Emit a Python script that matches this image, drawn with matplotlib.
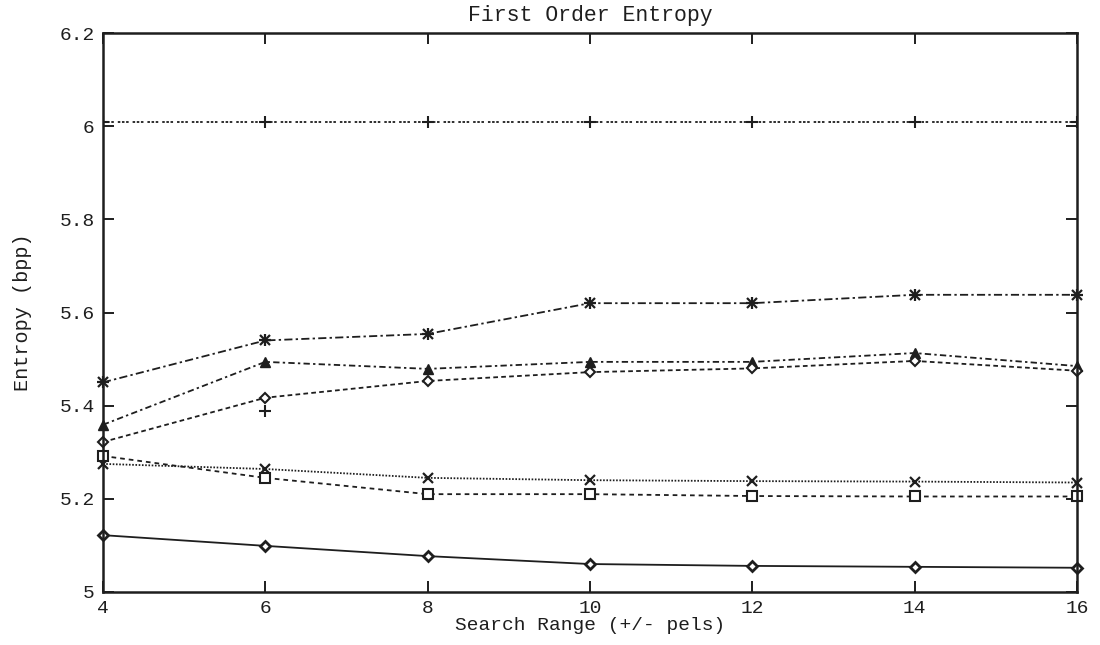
import matplotlib
matplotlib.use("Agg")
import matplotlib.pyplot as plt

# search range (+/- pels)
search_range = [4, 6, 8, 10, 12, 14, 16]

# first order entropy (bpp) per method
ent_plus = [6.01, 6.01, 6.01, 6.01, 6.01, 6.01, 6.01]
ent_star = [5.45, 5.54, 5.554, 5.62, 5.62, 5.638, 5.638]
ent_tri = [5.359, 5.494, 5.479, 5.494, 5.494, 5.513, 5.485]
ent_dia = [5.322, 5.417, 5.453, 5.472, 5.48, 5.496, 5.475]
ent_cross = [5.275, 5.264, 5.245, 5.24, 5.238, 5.237, 5.235]
ent_sq = [5.292, 5.245, 5.21, 5.21, 5.206, 5.205, 5.205]
ent_base = [5.122, 5.099, 5.077, 5.06, 5.056, 5.054, 5.052]

# single extra point at range 6
lone_x = [6]
lone_y = [5.389]

xticks = [4, 6, 8, 10, 12, 14, 16]
yticks = [5.0, 5.2, 5.4, 5.6, 5.8, 6.0, 6.2]
ytick_labels = ["5", "5.2", "5.4", "5.6", "5.8", "6", "6.2"]

ink = "#1e1e1e"
mono = ["Liberation Mono", "DejaVu Sans Mono"]

fig = plt.figure(figsize=(11, 6.45), dpi=100)
ax = fig.add_axes([0.0936, 0.0822, 0.8854, 0.8666])

lw = 1.3
ax.plot(search_range, ent_plus, color=ink, lw=lw, dashes=(1.4, 0.9, 1.4, 0.9, 1.4, 2.2),
        marker="+", ms=9, mew=1.5)
ax.plot(search_range, ent_star, color=ink, lw=lw, dashes=(4.5, 1.8, 1.3, 1.8),
        marker="+", ms=9, mew=1.6, clip_on=False)
ax.plot(search_range, ent_star, color=ink, lw=0, marker="x", ms=7, mew=1.6, clip_on=False)
ax.plot(search_range, ent_tri, color=ink, lw=lw, dashes=(3.5, 1.8, 1.3, 1.8),
        marker="^", ms=7, mfc=ink, clip_on=False)
ax.plot(search_range, ent_dia, color=ink, lw=lw, dashes=(2.6, 1.8),
        marker="D", ms=5.5, mfc="white", mew=1.5, clip_on=False)
ax.plot(search_range, ent_cross, color=ink, lw=lw, dashes=(0.9, 0.9),
        marker="x", ms=7, mew=1.6, clip_on=False)
ax.plot(search_range, ent_sq, color=ink, lw=lw, dashes=(2.6, 2.2),
        marker="s", ms=7, mfc="white", mew=1.5, clip_on=False)
ax.plot(search_range, ent_base, color=ink, lw=lw, ls="-",
        marker="D", ms=5.5, mfc="white", mew=2.0, clip_on=False)
ax.plot(lone_x, lone_y, color=ink, lw=0, marker="+", ms=9, mew=1.5)

ax.set_xlim(4, 16)
ax.set_ylim(5, 6.2)
ax.set_xticks(xticks)
ax.set_xticklabels([str(t) for t in xticks], family=mono, fontsize=14, color=ink)
ax.set_yticks(yticks)
ax.set_yticklabels(ytick_labels, family=mono, fontsize=14, color=ink)
ax.tick_params(direction="in", length=8, width=1.4, top=True, right=True,
               pad=6, colors=ink)

for sp in ax.spines.values():
    sp.set_linewidth(1.8)
    sp.set_color(ink)

ax.set_title("First Order Entropy", family=mono, fontsize=15.5, color=ink, pad=9)
ax.set_xlabel("Search Range (+/- pels)", family=mono, fontsize=14, color=ink, labelpad=0)
ax.set_ylabel("Entropy (bpp)", family=mono, fontsize=14.5, color=ink, labelpad=20)

fig.savefig("out.png", dpi=100, facecolor="white")
